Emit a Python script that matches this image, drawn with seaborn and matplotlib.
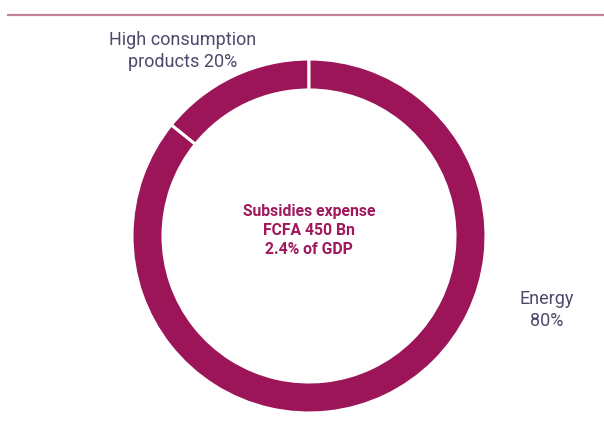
import matplotlib
matplotlib.use("Agg")
import matplotlib.pyplot as plt
import seaborn as sns

# Data
categories = ["High consumption\nproducts 20%", "Energy\n80%"]
labels_pct = [20, 80]
# angular shares as drawn in the reference ring
shares = [14.2, 85.8]
center_lines = ["Subsidies expense", "FCFA 450 Bn", "2.4% of GDP"]

sns.set_theme(style="white")
plt.rcParams["font.family"] = ["Roboto", "DejaVu Sans"]

ring_color = "#9C1559"
label_color = "#4B4A6B"
center_color = "#A0195C"

fig = plt.figure(figsize=(6.04, 4.23), dpi=100)
ax = fig.add_axes([0, 0, 1, 1])

cx, cy, r = 309, 423 - 236, 177
ax.pie(shares, colors=[ring_color, ring_color], startangle=90, counterclock=True,
       radius=r, center=(cx, cy),
       wedgeprops=dict(width=31, edgecolor="white", linewidth=2.2))
ax.set_xlim(0, 604)
ax.set_ylim(0, 423)
ax.set_aspect("equal")
ax.axis("off")

# top rule
ax.plot([7, 604], [423 - 14.5, 423 - 14.5], color="#C4819E", lw=1.6, solid_capstyle="butt")

ax.text(183, 423 - 51, categories[0], ha="center", va="center", fontsize=13,
        color=label_color, linespacing=1.25)
ax.text(547, 423 - 310, categories[1], ha="center", va="center", fontsize=13,
        color=label_color, linespacing=1.25)
ax.text(309, 423 - 230.5, "\n".join(center_lines), ha="center", va="center",
        fontsize=11.3, fontweight="bold", color=center_color, linespacing=1.32)

fig.savefig("out.png", dpi=100)
